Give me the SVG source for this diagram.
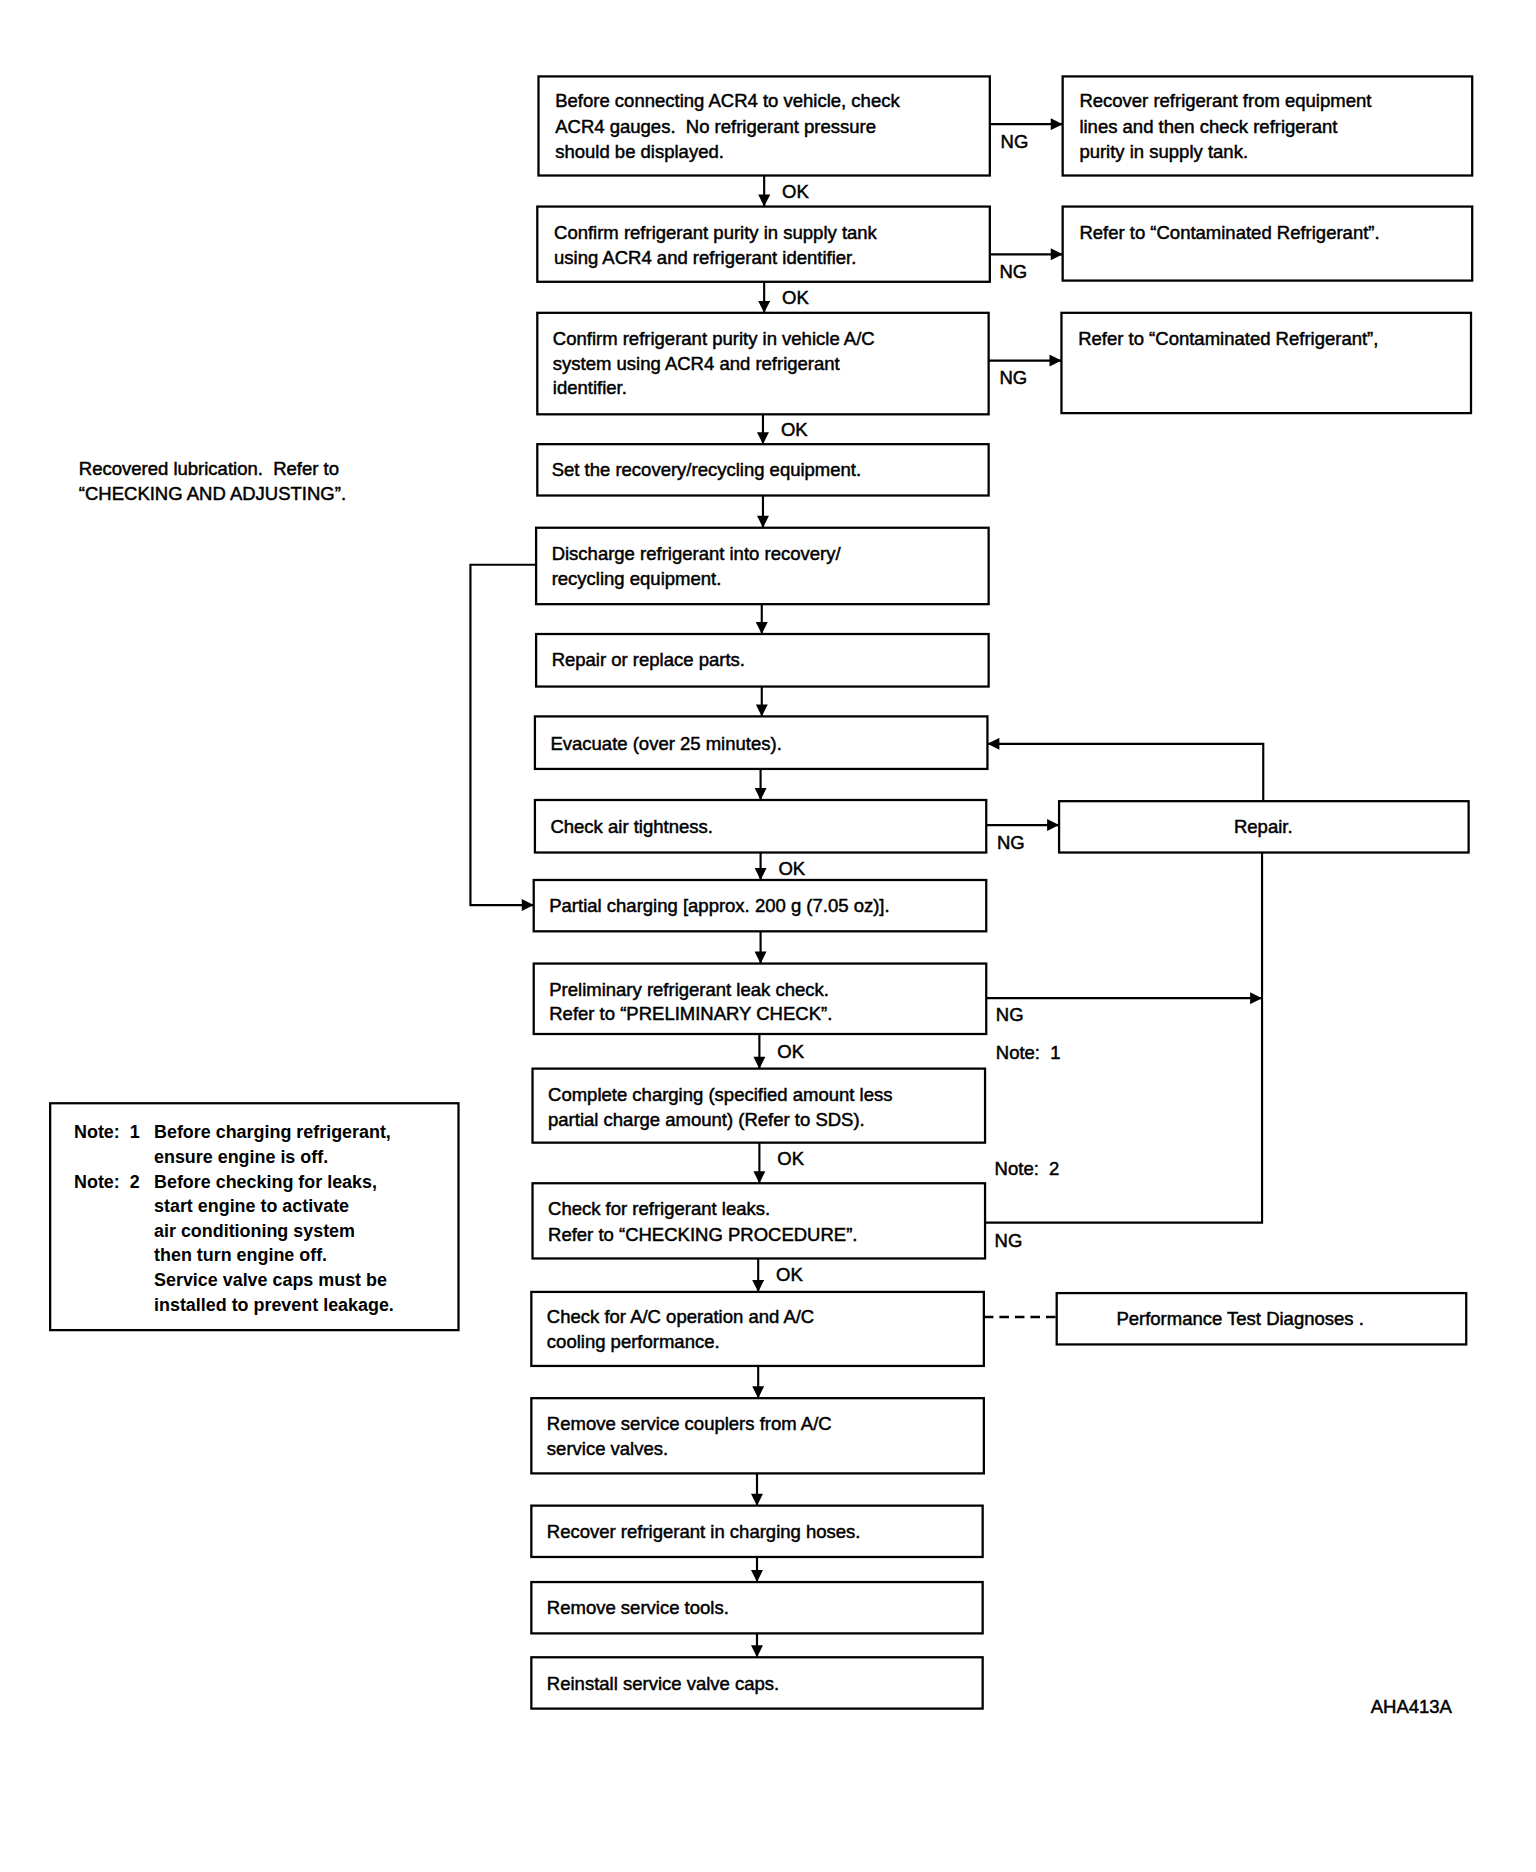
<svg xmlns="http://www.w3.org/2000/svg" width="1536" height="1872" viewBox="0 0 1536 1872" xml:space="preserve">
<style>
.b{fill:#fff;stroke:#000;stroke-width:1.9}
.t{font-family:"Liberation Sans",Arial,sans-serif;font-size:15.5px;fill:#000;stroke:#000;stroke-width:0.4;white-space:pre}
.n{font-family:"Liberation Sans",Arial,sans-serif;font-size:15px;font-weight:bold;fill:#000;white-space:pre}
.c{stroke:#000;stroke-width:1.8;fill:none}
.d{stroke:#000;stroke-width:2;fill:none;stroke-dasharray:8,5}
</style>
<defs>
<marker id="a" viewBox="0 0 10 10" refX="10" refY="5" markerWidth="14" markerHeight="10" markerUnits="userSpaceOnUse" orient="auto"><path d="M0,0 L10,5 L0,10 z" fill="#000"/></marker>
</defs>
<rect width="1536" height="1872" fill="#fff"/>
<g transform="scale(1.194)">
<g id="connectors">
<line class="c" x1="640" y1="147" x2="640" y2="173" marker-end="url(#a)"/>
<line class="c" x1="640" y1="236" x2="640" y2="262" marker-end="url(#a)"/>
<line class="c" x1="639" y1="347" x2="639" y2="372" marker-end="url(#a)"/>
<line class="c" x1="639" y1="415" x2="639" y2="442" marker-end="url(#a)"/>
<line class="c" x1="638" y1="506" x2="638" y2="531" marker-end="url(#a)"/>
<line class="c" x1="638" y1="575" x2="638" y2="600" marker-end="url(#a)"/>
<line class="c" x1="637" y1="644" x2="637" y2="670" marker-end="url(#a)"/>
<line class="c" x1="637" y1="714" x2="637" y2="737" marker-end="url(#a)"/>
<line class="c" x1="637" y1="780" x2="637" y2="807" marker-end="url(#a)"/>
<line class="c" x1="636" y1="866" x2="636" y2="895" marker-end="url(#a)"/>
<line class="c" x1="636" y1="957" x2="636" y2="991" marker-end="url(#a)"/>
<line class="c" x1="635" y1="1054" x2="635" y2="1082" marker-end="url(#a)"/>
<line class="c" x1="635" y1="1144" x2="635" y2="1171" marker-end="url(#a)"/>
<line class="c" x1="634" y1="1234" x2="634" y2="1261" marker-end="url(#a)"/>
<line class="c" x1="634" y1="1304" x2="634" y2="1325" marker-end="url(#a)"/>
<line class="c" x1="634" y1="1368" x2="634" y2="1388" marker-end="url(#a)"/>
<line class="c" x1="829" y1="104" x2="890" y2="104" marker-end="url(#a)"/>
<line class="c" x1="829" y1="213" x2="890" y2="213" marker-end="url(#a)"/>
<line class="c" x1="828" y1="302" x2="889" y2="302" marker-end="url(#a)"/>
<line class="c" x1="826" y1="691" x2="887" y2="691" marker-end="url(#a)"/>
<polyline class="c" points="449,473 394,473 394,758 447,758" marker-end="url(#a)"/>
<polyline class="c" points="1058,671 1058,623 827,623" marker-end="url(#a)"/>
<line class="c" x1="826" y1="836" x2="1057" y2="836" marker-end="url(#a)"/>
<polyline class="c" points="1057,714 1057,1024 825,1024"/>
<line class="d" x1="824" y1="1103" x2="885" y2="1103"/>
<text class="t" x="655" y="166">OK</text>
<text class="t" x="655" y="255">OK</text>
<text class="t" x="654" y="365">OK</text>
<text class="t" x="652" y="733">OK</text>
<text class="t" x="651" y="886">OK</text>
<text class="t" x="651" y="976">OK</text>
<text class="t" x="650" y="1073">OK</text>
<text class="t" x="838" y="124">NG</text>
<text class="t" x="837" y="233">NG</text>
<text class="t" x="837" y="322">NG</text>
<text class="t" x="835" y="711">NG</text>
<text class="t" x="834" y="855">NG</text>
<text class="t" x="833" y="1044">NG</text>
<text class="t" x="834" y="887">Note:  1</text>
<text class="t" x="833" y="984">Note:  2</text>
</g>
<g id="n1"><rect class="b" x="451" y="64" width="378" height="83"/><text class="t" x="465" y="90">Before connecting ACR4 to vehicle, check</text><text class="t" x="465" y="111">ACR4 gauges.  No refrigerant pressure</text><text class="t" x="465" y="132">should be displayed.</text></g>
<g id="r1"><rect class="b" x="890" y="64" width="343" height="83"/><text class="t" x="904" y="90">Recover refrigerant from equipment</text><text class="t" x="904" y="111">lines and then check refrigerant</text><text class="t" x="904" y="132">purity in supply tank.</text></g>
<g id="n2"><rect class="b" x="450" y="173" width="379" height="63"/><text class="t" x="464" y="200">Confirm refrigerant purity in supply tank</text><text class="t" x="464" y="221">using ACR4 and refrigerant identifier.</text></g>
<g id="r2"><rect class="b" x="890" y="173" width="343" height="62"/><text class="t" x="904" y="200">Refer to “Contaminated Refrigerant”.</text></g>
<g id="n3"><rect class="b" x="450" y="262" width="378" height="85"/><text class="t" x="463" y="289">Confirm refrigerant purity in vehicle A/C</text><text class="t" x="463" y="310">system using ACR4 and refrigerant</text><text class="t" x="463" y="330">identifier.</text></g>
<g id="r3"><rect class="b" x="889" y="262" width="343" height="84"/><text class="t" x="903" y="289">Refer to “Contaminated Refrigerant”,</text></g>
<g id="n4"><rect class="b" x="450" y="372" width="378" height="43"/><text class="t" x="462" y="399">Set the recovery/recycling equipment.</text></g>
<g id="note0"><text class="t" x="66" y="398">Recovered lubrication.  Refer to</text><text class="t" x="66" y="419">“CHECKING AND ADJUSTING”.</text></g>
<g id="n5"><rect class="b" x="449" y="442" width="379" height="64"/><text class="t" x="462" y="469">Discharge refrigerant into recovery/</text><text class="t" x="462" y="490">recycling equipment.</text></g>
<g id="n6"><rect class="b" x="449" y="531" width="379" height="44"/><text class="t" x="462" y="558">Repair or replace parts.</text></g>
<g id="n7"><rect class="b" x="448" y="600" width="379" height="44"/><text class="t" x="461" y="628">Evacuate (over 25 minutes).</text></g>
<g id="n8"><rect class="b" x="448" y="670" width="378" height="44"/><text class="t" x="461" y="698">Check air tightness.</text></g>
<g id="repair"><rect class="b" x="887" y="671" width="343" height="43"/><text class="t" x="1058" y="698" text-anchor="middle">Repair.</text></g>
<g id="n9"><rect class="b" x="447" y="737" width="379" height="43"/><text class="t" x="460" y="764">Partial charging [approx. 200 g (7.05 oz)].</text></g>
<g id="n10"><rect class="b" x="447" y="807" width="379" height="59"/><text class="t" x="460" y="834">Preliminary refrigerant leak check.</text><text class="t" x="460" y="854">Refer to “PRELIMINARY CHECK”.</text></g>
<g id="n11"><rect class="b" x="446" y="895" width="379" height="62"/><text class="t" x="459" y="922">Complete charging (specified amount less</text><text class="t" x="459" y="943">partial charge amount) (Refer to SDS).</text></g>
<g id="n12"><rect class="b" x="446" y="991" width="379" height="63"/><text class="t" x="459" y="1018">Check for refrigerant leaks.</text><text class="t" x="459" y="1039">Refer to “CHECKING PROCEDURE”.</text></g>
<g id="n13"><rect class="b" x="445" y="1082" width="379" height="62"/><text class="t" x="458" y="1108">Check for A/C operation and A/C</text><text class="t" x="458" y="1129">cooling performance.</text></g>
<g id="perf"><rect class="b" x="885" y="1083" width="343" height="43"/><text class="t" x="935" y="1110">Performance Test Diagnoses .</text></g>
<g id="n14"><rect class="b" x="445" y="1171" width="379" height="63"/><text class="t" x="458" y="1198">Remove service couplers from A/C</text><text class="t" x="458" y="1219">service valves.</text></g>
<g id="n15"><rect class="b" x="445" y="1261" width="378" height="43"/><text class="t" x="458" y="1288">Recover refrigerant in charging hoses.</text></g>
<g id="n16"><rect class="b" x="445" y="1325" width="378" height="43"/><text class="t" x="458" y="1352">Remove service tools.</text></g>
<g id="n17"><rect class="b" x="445" y="1388" width="378" height="43"/><text class="t" x="458" y="1415">Reinstall service valve caps.</text></g>
<g id="notes"><rect class="b" x="42" y="924" width="342" height="190"/>
<text class="n" x="62" y="953">Note:  1</text><text class="n" x="129" y="953">Before charging refrigerant,</text>
<text class="n" x="129" y="974">ensure engine is off.</text>
<text class="n" x="62" y="995">Note:  2</text><text class="n" x="129" y="995">Before checking for leaks,</text>
<text class="n" x="129" y="1015">start engine to activate</text>
<text class="n" x="129" y="1036">air conditioning system</text>
<text class="n" x="129" y="1056">then turn engine off.</text>
<text class="n" x="129" y="1077">Service valve caps must be</text>
<text class="n" x="129" y="1098">installed to prevent leakage.</text></g>
<g id="code"><text class="t" x="1148" y="1435">AHA413A</text></g>
</g>
</svg>
